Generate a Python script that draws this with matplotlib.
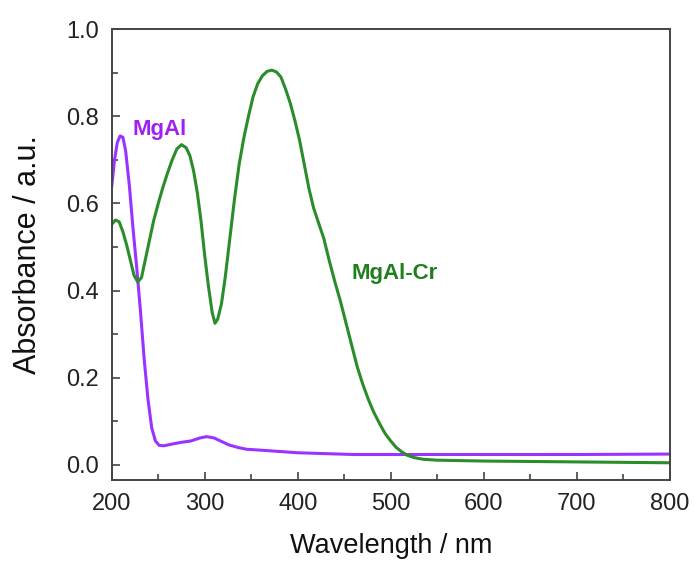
import numpy as np
import matplotlib.pyplot as plt
from matplotlib.ticker import MultipleLocator

# MgAl spectrum
mgal_wl = [200, 203, 206, 209, 212, 215, 219, 223, 227, 231, 235, 239, 243, 247, 251, 256,
           265, 275, 285, 295, 302, 310, 318, 326, 336, 345, 360, 380, 400, 430, 460, 500,
           600, 700, 800]
mgal_abs = [0.64, 0.70, 0.74, 0.755, 0.752, 0.72, 0.64, 0.54, 0.45, 0.35, 0.24, 0.15, 0.085,
            0.055, 0.045, 0.044, 0.048, 0.052, 0.055, 0.062, 0.065, 0.062, 0.054, 0.046, 0.040,
            0.036, 0.034, 0.031, 0.028, 0.026, 0.024, 0.024, 0.024, 0.024, 0.025]

# MgAl-Cr spectrum
cr_wl = [200, 204, 208, 212, 216, 220, 224, 228, 232, 236, 240, 245, 250, 255, 260, 265, 270,
         275, 280, 284, 288, 292, 296, 300, 304, 308, 311, 314, 318, 322, 327, 332, 337, 342,
         347, 352, 357, 362, 367, 372, 377, 382, 387, 392, 397, 402, 407, 412, 417, 422, 428,
         434, 440, 446, 452, 458, 464, 470, 476, 482, 488, 494, 500, 506, 512, 518, 525, 535,
         550, 600, 650, 700, 750, 800]
cr_abs = [0.552, 0.562, 0.558, 0.535, 0.505, 0.47, 0.435, 0.42, 0.43, 0.47, 0.51, 0.56, 0.60,
          0.637, 0.67, 0.70, 0.725, 0.735, 0.728, 0.71, 0.675, 0.625, 0.56, 0.48, 0.41, 0.35,
          0.325, 0.335, 0.37, 0.43, 0.52, 0.61, 0.69, 0.75, 0.80, 0.845, 0.875, 0.893, 0.903,
          0.906, 0.902, 0.89, 0.862, 0.83, 0.79, 0.745, 0.69, 0.635, 0.59, 0.558, 0.52, 0.468,
          0.42, 0.375, 0.325, 0.275, 0.225, 0.185, 0.15, 0.12, 0.095, 0.072, 0.055, 0.04, 0.03,
          0.022, 0.017, 0.013, 0.011, 0.009, 0.008, 0.007, 0.006, 0.005]

plt.rcParams['font.family'] = ['Liberation Sans', 'DejaVu Sans']

fig = plt.figure(figsize=(6.94, 5.61), dpi=100)
ax = fig.add_axes([0.161, 0.144, 0.804, 0.804])

purple = '#9933ff'
green = '#2a8c2a'
ax.plot(mgal_wl, mgal_abs, color=purple, lw=2.2)
ax.plot(cr_wl, cr_abs, color=green, lw=2.2)

ax.text(222, 0.77, 'MgAl', color='#a020f0', fontsize=16, fontweight='bold', va='center')
ax.text(458, 0.44, 'MgAl-Cr', color='#1f7f1f', fontsize=16, fontweight='bold', va='center')

ax.set_xlim(200, 800)
ax.set_ylim(-0.035, 1.0)
ax.xaxis.set_major_locator(MultipleLocator(100))
ax.xaxis.set_minor_locator(MultipleLocator(50))
ax.yaxis.set_major_locator(MultipleLocator(0.2))
ax.yaxis.set_minor_locator(MultipleLocator(0.1))
ax.yaxis.set_major_formatter(plt.FormatStrFormatter('%.1f'))

ax.tick_params(which='both', direction='in', top=False, right=False, color='#333333',
               labelsize=17, labelcolor='#222222', pad=9)
ax.tick_params(which='major', length=6, width=1.1)
ax.tick_params(which='minor', length=4, width=1.1)
for s in ax.spines.values():
    s.set_color('#444444')
    s.set_linewidth(1.4)

ax.set_xlabel('Wavelength / nm', fontsize=19.5, labelpad=13, color='#111111')
ax.set_ylabel('Absorbance / a.u.', fontsize=22, labelpad=17, color='#111111')

fig.savefig('out.png', dpi=100)
